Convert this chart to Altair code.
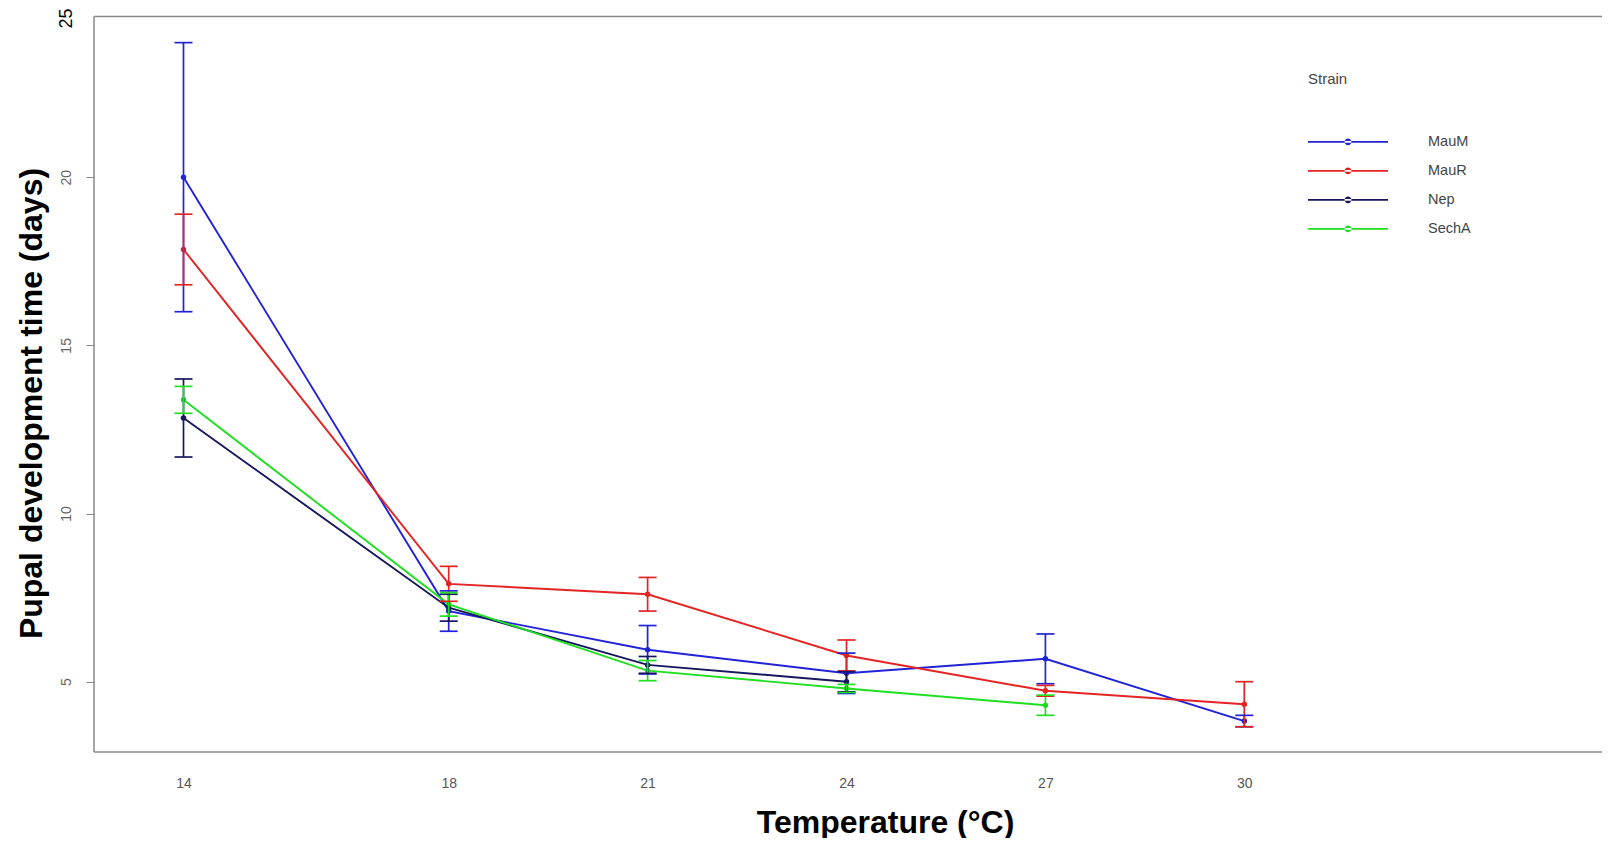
import altair as alt
import pandas as pd

strains = ["MauM", "MauR", "Nep", "SechA"]
colors = ["#2222d6", "#e42424", "#17175f", "#20de20"]
temps = [14, 18, 21, 24, 27, 30]

mau_m_mean = [20.0, 7.1, 5.95, 5.25, 5.68, 3.83]
mau_m_err = [4.0, 0.6, 0.72, 0.6, 0.74, 0.17]
mau_r_mean = [17.85, 7.91, 7.6, 5.78, 4.73, 4.33]
mau_r_err = [1.05, 0.52, 0.5, 0.46, 0.16, 0.67]
nep_mean = [12.84, 7.2, 5.5, 5.0, None, None]
nep_err = [1.16, 0.4, 0.25, 0.3, None, None]
secha_mean = [13.38, 7.3, 5.33, 4.8, 4.3, None]
secha_err = [0.4, 0.35, 0.3, 0.12, 0.3, None]

y_ticks = [5, 10, 15, 20, 25]
y_lo, y_frame_top, y_hi = 2.91, 24.78, 25.0

means = [mau_m_mean, mau_r_mean, nep_mean, secha_mean]
errs = [mau_m_err, mau_r_err, nep_err, secha_err]

rows = []
for s, m_list, e_list in zip(strains, means, errs):
    for t, m, e in zip(temps, m_list, e_list):
        if m is None:
            continue
        rows.append({"strain": s, "temp": t, "mean": m, "lo": m - e, "hi": m + e})
df = pd.DataFrame(rows)

W, H = 1500, 743
EXTRA = 8
x_scale = alt.Scale(domain=[12.65, 12.65 + W / 66.3], nice=False, zero=False)
y_scale = alt.Scale(domain=[y_lo, y_hi], nice=False, zero=False)
color_scale = alt.Scale(domain=strains, range=colors)

legend_path = ("M-1,-0.022H1V0.022H-1Z "
               "M-0.085,0A0.085,0.085,0,1,0,0.085,0A0.085,0.085,0,1,0,-0.085,0Z")

is25 = "datum.value == 25"
x_axis = alt.Axis(
    values=temps, ticks=False, grid=False, domain=False, labelPadding=24, labelFontSize=14,
    labelColor="#555", labelFont="Liberation Sans",
    title="Temperature (°C)", titleFont="Liberation Sans", titleFontSize=32,
    titleFontWeight="bold", titleColor="black", titleX=791, titleY=70,
    titleAlign="center", titleBaseline="middle",
)
y_axis = alt.Axis(
    values=y_ticks, grid=False, domain=False, tickSize=8,
    tickColor={"condition": {"test": is25, "value": "transparent"}, "value": "#888"},
    labelAngle=270, labelAlign="center", labelBaseline="middle", labelPadding=20,
    labelFont="Liberation Sans",
    labelFontSize={"condition": {"test": is25, "value": 18}, "value": 14},
    labelColor={"condition": {"test": is25, "value": "black"}, "value": "#666"},
    labelOffset={"condition": {"test": is25, "value": 9}, "value": 0},
    title="Pupal development time (days)", titleFont="Liberation Sans", titleFontSize=32,
    titleFontWeight="bold", titleColor="black", titleX=-63, titleY=394, titleAngle=270,
    titleAlign="center", titleBaseline="middle",
)

base = alt.Chart(df)
X = alt.X("temp:Q", scale=x_scale, axis=x_axis)

points = base.mark_point(filled=True, size=30, opacity=1).encode(
    x=X,
    y=alt.Y("mean:Q", scale=y_scale, axis=y_axis),
    color=alt.Color("strain:N", scale=color_scale, legend=alt.Legend(
        title="Strain", orient="none", legendX=1214, legendY=63, padding=0,
        symbolType=legend_path, symbolSize=6400, symbolStrokeWidth=0, symbolOpacity=1,
        labelOffset=40, clipHeight=28.7, rowPadding=0, titlePadding=40.5,
        titleFont="Liberation Sans", titleFontSize=15, titleFontWeight="normal", titleColor="#444",
        labelFont="Liberation Sans", labelFontSize=14.5, labelColor="#444",
    )),
)
lines = base.mark_line(strokeWidth=1.9).encode(
    x=X, y=alt.Y("mean:Q", scale=y_scale),
    color=alt.Color("strain:N", scale=color_scale, legend=None),
    detail="strain:N",
)
bars = base.mark_rule(strokeWidth=1.7).encode(
    x=X, y=alt.Y("lo:Q", scale=y_scale), y2="hi:Q",
    color=alt.Color("strain:N", scale=color_scale, legend=None),
)
caps_lo = base.mark_tick(orient="horizontal", size=18, thickness=1.7, opacity=1).encode(
    x=X, y=alt.Y("lo:Q", scale=y_scale),
    color=alt.Color("strain:N", scale=color_scale, legend=None),
)
caps_hi = base.mark_tick(orient="horizontal", size=18, thickness=1.7, opacity=1).encode(
    x=X, y=alt.Y("hi:Q", scale=y_scale),
    color=alt.Color("strain:N", scale=color_scale, legend=None),
)
frame_df = pd.DataFrame({"b": [0]})
top_border = alt.Chart(frame_df).mark_rule(color="#888", strokeWidth=1.5).encode(
    x=alt.value(0), x2=alt.value(W + EXTRA), y=alt.datum(y_frame_top)
)
bottom_border = alt.Chart(frame_df).mark_rule(color="#888", strokeWidth=1.5).encode(
    x=alt.value(0), x2=alt.value(W + EXTRA), y=alt.value(H)
)
left_border = alt.Chart(frame_df).mark_rule(color="#888", strokeWidth=1.5).encode(
    x=alt.value(0), y=alt.datum(y_frame_top), y2=alt.value(H)
)

chart = alt.layer(points, lines, bars, caps_lo, caps_hi,
                  top_border, bottom_border, left_border).properties(
    width=W, height=H,
    autosize=alt.AutoSizeParams(type="none"),
    padding={"left": 86, "top": 1, "right": EXTRA, "bottom": 86},
).configure_view(stroke=None)

chart.save("out.html", embed_options={"renderer": "svg", "actions": False})
